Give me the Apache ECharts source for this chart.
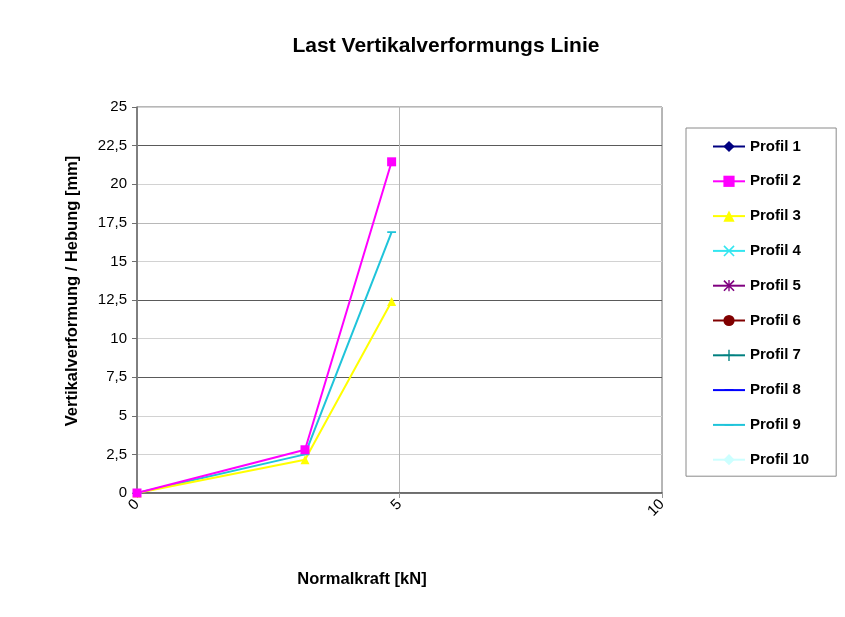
<!DOCTYPE html>
<html>
<head>
<meta charset="utf-8">
<title>Last Vertikalverformungs Linie</title>
<script src="https://cdn.jsdelivr.net/npm/echarts@6/dist/echarts.min.js"></script>
<style>
  html, body { margin: 0; padding: 0; background: #fff; }
  #chart { width: 845px; height: 617px; }
</style>
</head>
<body>
<div id="chart"></div>
<script>
// Load steps (kN) and vertical deformation per profile (mm)
const forceKN = [0, 3.2, 4.85];
const profil2 = [0, 2.8, 21.45];
const profil3 = [0, 2.15, 12.4];
const profil9 = [0, 2.5, 16.9];

const profileNames = ['Profil 1', 'Profil 2', 'Profil 3', 'Profil 4', 'Profil 5',
                      'Profil 6', 'Profil 7', 'Profil 8', 'Profil 9', 'Profil 10'];
const profileColors = ['#000080', '#FF00FF', '#FFFF00', '#33E6F0', '#800080',
                       '#800000', '#008080', '#0000FF', '#1FC4DA', '#CCFFFF'];

const yTicks = [0, 2.5, 5, 7.5, 10, 12.5, 15, 17.5, 20, 22.5, 25];
const xTicks = [0, 5, 10];

const FONT = '"Liberation Sans", Arial, sans-serif';

// marker shapes; the dash marker carries two zero-area corner points so
// its bounding box stays square and the bar keeps its thin proportions
const MK_X = 'path://M0,1L1,0L5,4L9,0L10,1L6,5L10,9L9,10L5,6L1,10L0,9L4,5Z';
const MK_PLUS = 'path://M4.4,0H5.6V4.4H10V5.6H5.6V10H4.4V5.6H0V4.4H4.4Z';
const MK_STAR = 'path://M0,1L1,0L5,4L9,0L10,1L6,5L10,9L9,10L5,6L1,10L0,9L4,5Z M4.4,0H5.6V10H4.4Z';
const MK_DASH = 'path://M0,0L0.001,0L0,0.001Z M1,4.2H9V5.8H1Z M10,10L9.999,10L10,9.999Z';
const markers = ['diamond', 'rect', 'triangle', MK_X, MK_STAR, 'circle', MK_PLUS, MK_DASH, MK_DASH, 'diamond'];
const markerSizes = [8, 9, 9, 9, 9, 9, 10, 9, 11, 8];

const seriesData = {
  'Profil 2': profil2,
  'Profil 3': profil3,
  'Profil 9': profil9
};

function pairs(ys) {
  return ys.map((y, i) => [forceKN[i], y]);
}

// draw order: cyan first, then yellow, magenta on top
const drawOrder = [0, 3, 4, 5, 6, 7, 9, 8, 2, 1];
const series = drawOrder.map(i => {
  const name = profileNames[i];
  const ys = seriesData[name];
  return {
    name: name,
    type: 'line',
    data: ys ? pairs(ys) : [],
    symbol: markers[i],
    symbolSize: markerSizes[i],
    showAllSymbol: true,
    color: profileColors[i],
    lineStyle: { width: 2, color: profileColors[i] },
    itemStyle: { color: profileColors[i] },
    animation: false
  };
});

const gridColors = yTicks.map((v, i) => (i === 3 || i === 5 || i === 9) ? '#5a5a5a' : (i === 7 ? '#b8b8b8' : '#d2d2d2'));

const chart = echarts.init(document.getElementById('chart'), null, { renderer: 'canvas' });
chart.setOption({
  backgroundColor: '#ffffff',
  animation: false,
  grid: {
    left: 137, right: 183, top: 107, bottom: 124,
    show: true, borderColor: '#6e6e6e', borderWidth: 1
  },
  legend: {
    data: profileNames,
    orient: 'vertical',
    left: 686,
    top: 128,
    itemWidth: 32,
    itemHeight: 14,
    itemGap: 19.8,
    padding: [11, 27, 9, 26],
    borderColor: '#8a8a8a',
    borderWidth: 1,
    textStyle: { fontFamily: FONT, fontWeight: 'bold', fontSize: 15, lineHeight: 14, color: '#000' }
  },
  xAxis: {
    type: 'value',
    min: xTicks[0],
    max: xTicks[xTicks.length - 1],
    interval: 5,
    axisLine: { show: true, lineStyle: { color: '#555', width: 1.5 } },
    axisTick: { show: true, inside: false, length: 5, lineStyle: { color: '#999' } },
    axisLabel: {
      rotate: 45, margin: 9,
      fontFamily: FONT, fontSize: 15, color: '#000'
    },
    splitLine: { show: true, lineStyle: { color: '#b5b5b5', width: 1 } }
  },
  yAxis: {
    type: 'value',
    min: yTicks[0],
    max: yTicks[yTicks.length - 1],
    interval: 2.5,
    axisLine: { show: true, lineStyle: { color: '#6e6e6e', width: 1.5 } },
    axisTick: { show: true, inside: false, length: 5, lineStyle: { color: '#6e6e6e' } },
    axisLabel: {
      margin: 10,
      fontFamily: FONT, fontSize: 15, color: '#000',
      formatter: v => String(v).replace('.', ',')
    },
    splitLine: { show: true, lineStyle: { color: gridColors, width: 1 } }
  },
  graphic: [{
    type: 'text',
    x: 446, y: 46,
    style: {
      text: 'Last Vertikalverformungs Linie',
      font: 'bold 21px ' + FONT,
      fill: '#000',
      align: 'center',
      verticalAlign: 'middle'
    }
  }, {
    type: 'text',
    x: 72, y: 291,
    rotation: Math.PI / 2,
    style: {
      text: 'Vertikalverformung / Hebung [mm]',
      font: 'bold 16.5px ' + FONT,
      fill: '#000',
      align: 'center',
      verticalAlign: 'middle'
    }
  }, {
    type: 'text',
    x: 362, y: 579,
    style: {
      text: 'Normalkraft [kN]',
      font: 'bold 16.5px ' + FONT,
      fill: '#000',
      align: 'center',
      verticalAlign: 'middle'
    }
  }],
  series: series
});
</script>
</body>
</html>
